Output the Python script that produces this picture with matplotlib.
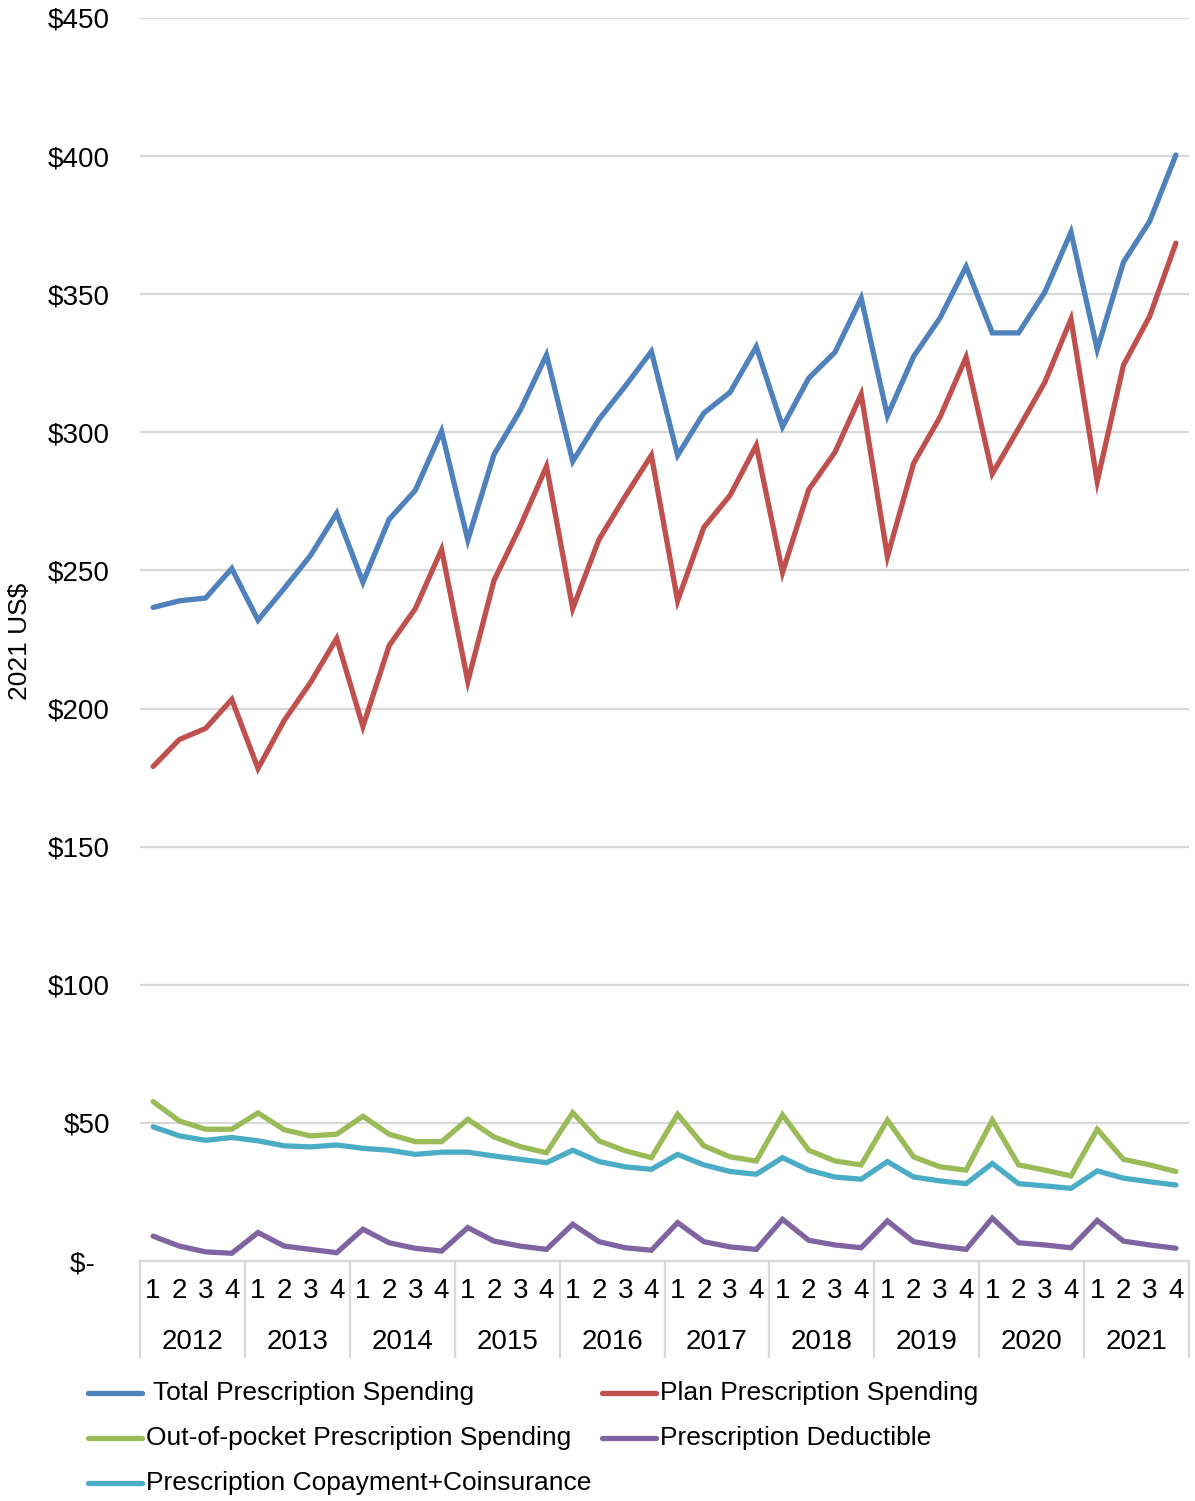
import matplotlib
matplotlib.use("Agg")
import matplotlib.pyplot as plt
from matplotlib.lines import Line2D

plt.rcParams['font.family'] = ['Liberation Sans', 'DejaVu Sans']

years = ['2012', '2013', '2014', '2015', '2016', '2017', '2018', '2019', '2020', '2021']
quarters = ['1', '2', '3', '4']

total = [236.6, 239.0, 240.0, 250.7, 232.0, 243.5, 255.4, 270.7, 245.7, 268.5,
         279.0, 300.4, 261.0, 292.0, 308.0, 328.0, 289.5, 304.7, 316.7, 329.3,
         291.7, 307.0, 314.5, 331.0, 302.0, 319.6, 329.0, 348.6, 306.0, 327.5,
         341.3, 360.0, 336.0, 336.0, 350.7, 372.5, 330.0, 361.6, 376.4, 400.4]
plan = [179.0, 188.8, 192.8, 203.3, 178.3, 195.7, 209.4, 225.4, 193.5, 222.8,
        236.2, 257.6, 209.8, 246.4, 266.0, 287.7, 236.2, 261.2, 276.8, 291.7,
        239.0, 265.6, 277.2, 295.3, 249.3, 279.3, 292.8, 313.8, 255.0, 288.8,
        305.4, 327.2, 285.0, 301.4, 318.1, 341.0, 282.2, 324.3, 342.0, 368.5]
oop = [57.7, 50.7, 47.7, 47.7, 53.6, 47.5, 45.3, 45.9, 52.4, 45.9,
       43.2, 43.2, 51.3, 44.9, 41.4, 39.2, 53.7, 43.5, 39.9, 37.4,
       53.1, 41.7, 37.7, 36.2, 52.9, 40.1, 36.2, 34.8, 51.0, 37.7,
       34.1, 32.9, 51.0, 34.8, 32.9, 30.8, 47.7, 36.8, 34.8, 32.4]
deductible = [9.0, 5.4, 3.3, 2.8, 10.3, 5.4, 4.2, 3.0, 11.5, 6.6,
              4.6, 3.6, 12.1, 7.2, 5.4, 4.2, 13.3, 7.0, 4.8, 3.9,
              13.9, 7.0, 5.1, 4.2, 15.1, 7.5, 5.8, 4.8, 14.5, 7.0,
              5.4, 4.2, 15.5, 6.6, 5.8, 4.8, 14.7, 7.2, 5.8, 4.6]
copay = [48.6, 45.3, 43.7, 44.7, 43.5, 41.7, 41.3, 42.0, 40.8, 40.1,
         38.6, 39.4, 39.4, 38.0, 36.8, 35.6, 40.1, 36.0, 34.1, 33.2,
         38.6, 34.8, 32.4, 31.4, 37.4, 32.9, 30.4, 29.6, 36.0, 30.4,
         29.0, 28.0, 35.3, 28.0, 27.2, 26.3, 32.6, 30.0, 28.7, 27.5]

series = [
    ('Total Prescription Spending', total, '#4F81BD'),
    ('Plan Prescription Spending', plan, '#C0504D'),
    ('Out-of-pocket Prescription Spending', oop, '#9BBB59'),
    ('Prescription Deductible', deductible, '#8064A2'),
    ('Prescription Copayment+Coinsurance', copay, '#4BACC6'),
]

W, H = 1195, 1501
fig = plt.figure(figsize=(W / 100, H / 100), dpi=100)
ax = fig.add_axes([140 / W, 1 - 1261 / H, (1189 - 140) / W, (1261 - 18) / H])

x = list(range(len(years) * len(quarters)))
for name, vals, col in series:
    ax.plot(x, vals, color=col, lw=3.8, solid_capstyle='round', solid_joinstyle='miter', zorder=3)

ax.set_xlim(-0.5, len(x) - 0.5)
ax.set_ylim(0, 450)
ax.set_yticks(range(0, 451, 50))
ax.set_yticklabels(['$-  '] + [f'${v}' for v in range(50, 451, 50)], fontsize=20)
ax.grid(axis='y', color='#d9d9d9', lw=1.6)
ax.set_axisbelow(True)
for s in ['left', 'right', 'top']:
    ax.spines[s].set_visible(False)
ax.spines['bottom'].set_color('#d9d9d9')
ax.spines['bottom'].set_linewidth(1.6)
ax.tick_params(axis='y', length=0, pad=21.6)
ax.tick_params(axis='x', length=0, pad=12)

ax.set_xticks(x)
ax.set_xticklabels(quarters * len(years), fontsize=20)

# year row + separators
trans = ax.get_xaxis_transform()
ah = 1261 - 18
for i, yr in enumerate(years):
    ax.text(i * 4 + 1.5, -81 / ah, yr, transform=trans, ha='center', va='center', fontsize=20)
for i in range(len(years) + 1):
    ax.plot([i * 4 - 0.5] * 2, [0, -96 / ah], transform=trans, color='#d9d9d9', lw=1.6, clip_on=False)

fig.text(20 / W, 1 - 641 / H, '2021 US$', rotation=90, ha='center', va='center', fontsize=19)

# legend
legend_pos = [(88, 1393), (602, 1393), (88, 1438), (602, 1438), (88, 1483)]
for (name, vals, col), (lx, ly) in zip(series, legend_pos):
    yy = 1 - ly / H
    fig.add_artist(Line2D([lx / W, (lx + 54) / W], [yy, yy], color=col, lw=3.8, solid_capstyle='round'))
    label = (' ' + name) if name.startswith('Total') else name
    fig.text((lx + 58) / W, yy, label, ha='left', va='center', fontsize=19)

fig.savefig('out.png', dpi=100)
